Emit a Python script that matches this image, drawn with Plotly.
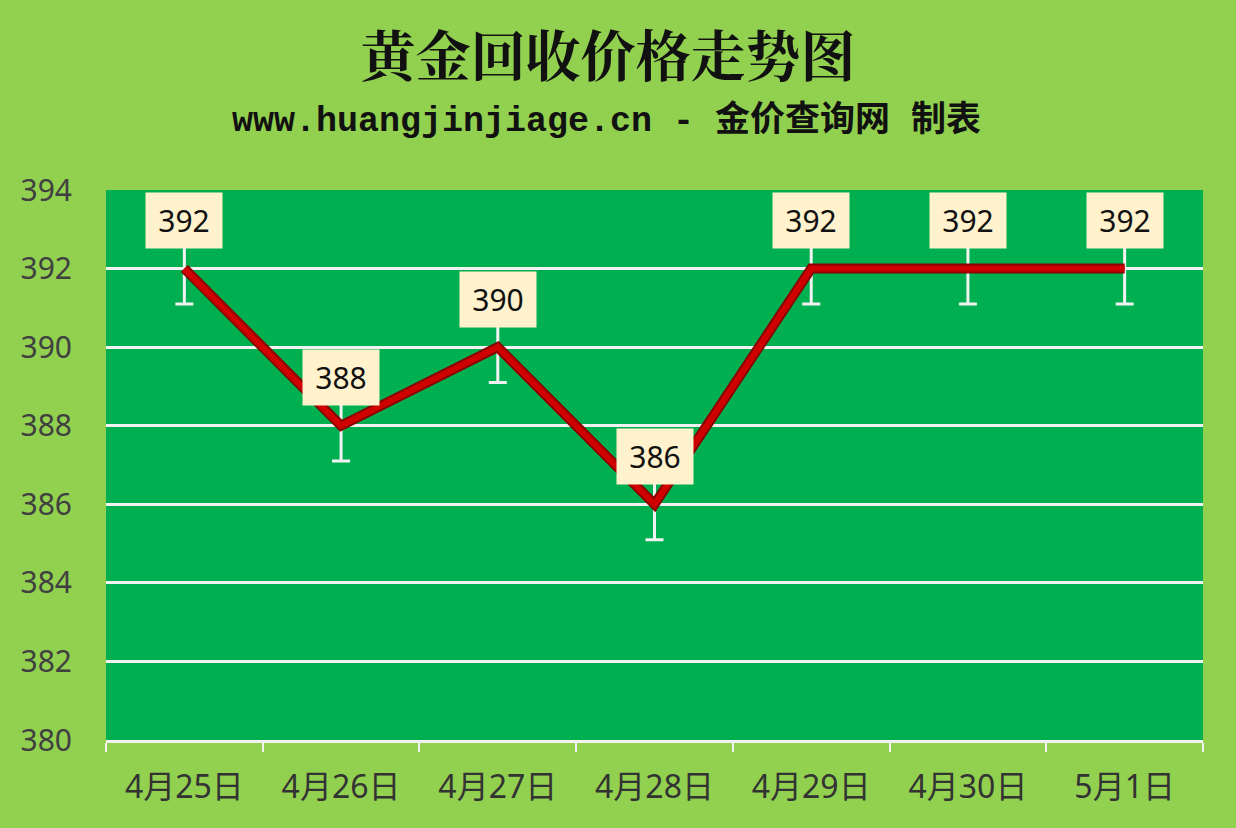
import plotly.graph_objects as go

categories = ["4月25日", "4月26日", "4月27日", "4月28日", "4月29日", "4月30日", "5月1日"]
prices = [392, 388, 390, 386, 392, 392, 392]
y_ticks = [380, 382, 384, 386, 388, 390, 392, 394]
err_down = [0.9] * len(prices)
err_up = [0.6] * len(prices)

fig = go.Figure()

# white stems below/above points
fig.add_trace(go.Scatter(
    x=categories, y=prices, mode="markers",
    marker=dict(size=1, color="rgba(0,0,0,0)"),
    error_y=dict(type="data", symmetric=False, array=err_up, arrayminus=err_down,
                 color="#F2F2F2", thickness=3, width=9),
    hoverinfo="skip", showlegend=False,
))
# dark outline
fig.add_trace(go.Scatter(
    x=categories, y=prices, mode="lines",
    line=dict(color="#8B0000", width=10),
    hoverinfo="skip", showlegend=False,
))
# red line
fig.add_trace(go.Scatter(
    x=categories, y=prices, mode="lines",
    line=dict(color="#D00000", width=6),
    showlegend=False,
))

for c, v in zip(categories, prices):
    fig.add_annotation(
        x=c, y=v, text=str(v), showarrow=False, yshift=48,
        font=dict(family="Noto Sans, Liberation Sans", size=30, color="#111111"),
        bgcolor="#FFF2CC", width=76, height=55, borderpad=0,
    )

fig.update_layout(
    width=1236, height=828,
    paper_bgcolor="#92D050",
    plot_bgcolor="#00B050",
    margin=dict(l=106, r=33, t=190, b=88),
    title=dict(
        text="<b>黄金回收价格走势图</b>",
        x=0.492, xanchor="center", y=0.932, yanchor="middle",
        font=dict(family="Noto Serif CJK SC, Noto Sans CJK SC", size=55, color="#111111"),
    ),
    font=dict(family="Noto Sans, Noto Sans CJK SC"),
)

fig.add_annotation(
    xref="paper", yref="paper", x=0.456, y=1.126, xanchor="center", yanchor="middle",
    text="<b>www.huangjinjiage.cn - 金价查询网 制表</b>",
    showarrow=False,
    font=dict(family="Liberation Mono, DejaVu Sans Mono, Noto Sans CJK SC", size=35, color="#111111"),
)

fig.update_xaxes(
    type="category",
    range=[-0.5, 6.5],
    tickson="boundaries",
    ticks="outside", ticklen=9, tickcolor="#F2F2F2", tickwidth=2,
    showline=True, linecolor="#F2F2F2", linewidth=3,
    showgrid=False,
    tickfont=dict(family="Noto Sans, Noto Sans CJK SC", size=32, color="#333333"),
    ticklabelstandoff=17,
)
fig.update_yaxes(
    range=[380, 394], tickvals=y_ticks,
    showgrid=True, gridcolor="#F2F2F2", gridwidth=3,
    zeroline=False, showline=False,
    tickfont=dict(family="Noto Sans", size=30, color="#404040"),
    ticklabelstandoff=33,
)

fig.write_html("out.html", config={"displayModeBar": False},
               post_script="document.body.style.margin='0';document.body.style.overflow='hidden';")
